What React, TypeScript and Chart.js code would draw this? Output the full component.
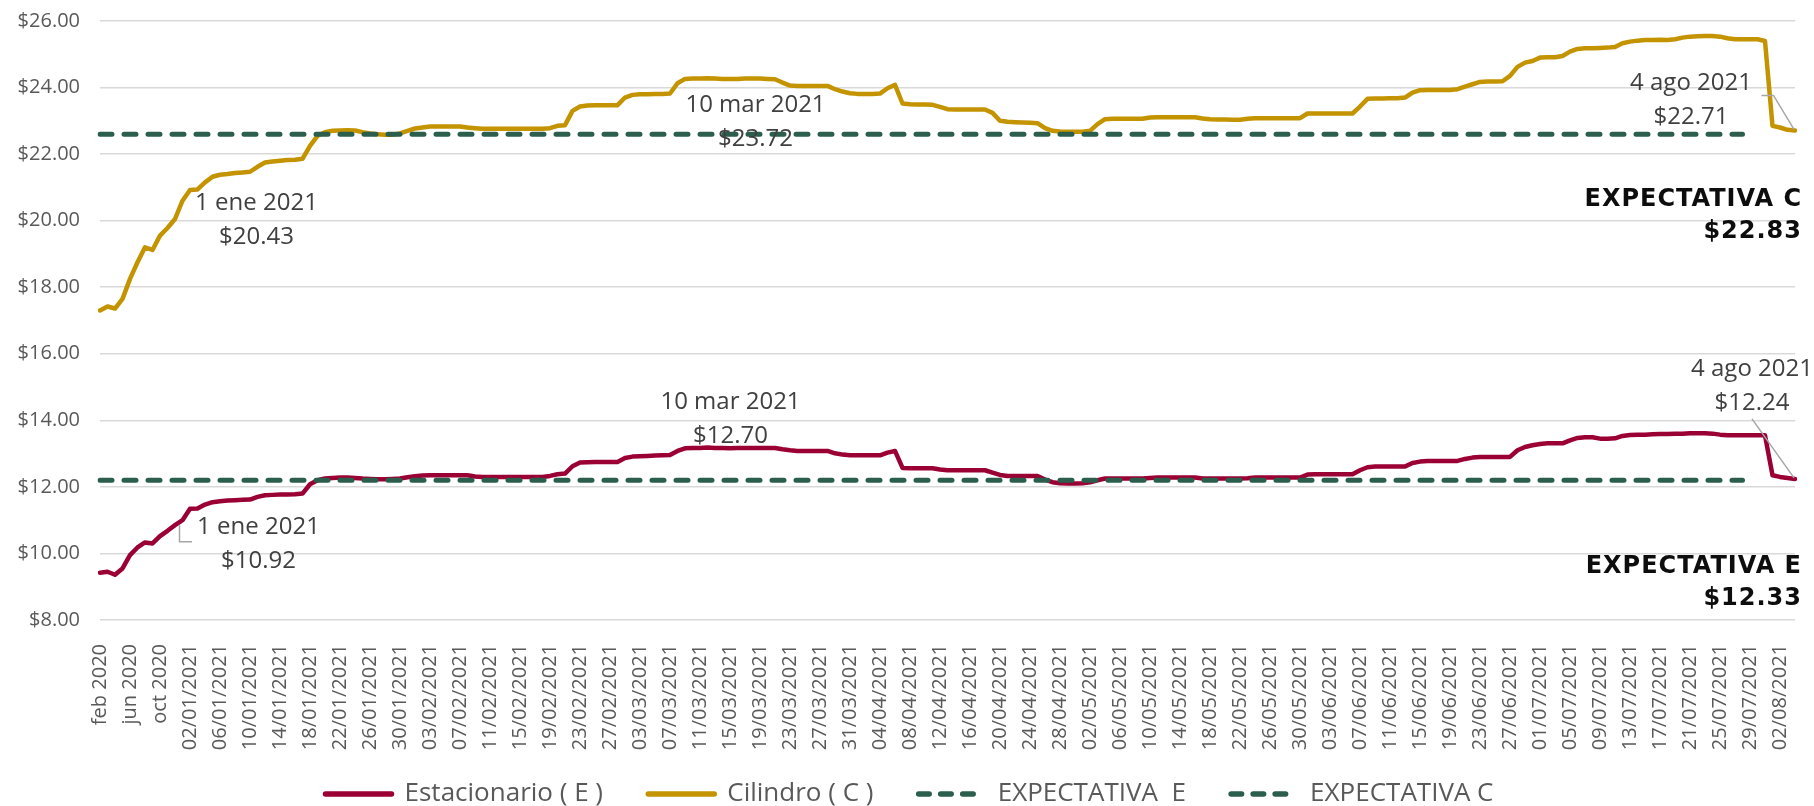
import { useEffect, useRef } from "react";
import { Chart, registerables } from "chart.js";

Chart.register(...registerables);

// ---------- DATA ----------
const MONTH_LABELS = [
  "feb 2020", "mar 2020", "abr 2020", "may 2020", "jun 2020", "jul 2020",
  "ago 2020", "sep 2020", "oct 2020", "nov 2020", "dic 2020",
];

const DAY_LABELS = [
  "01/01/2021","02/01/2021","03/01/2021","04/01/2021","05/01/2021","06/01/2021","07/01/2021","08/01/2021","09/01/2021","10/01/2021",
  "11/01/2021","12/01/2021","13/01/2021","14/01/2021","15/01/2021","16/01/2021","17/01/2021","18/01/2021","19/01/2021","20/01/2021",
  "21/01/2021","22/01/2021","23/01/2021","24/01/2021","25/01/2021","26/01/2021","27/01/2021","28/01/2021","29/01/2021","30/01/2021","31/01/2021",
  "01/02/2021","02/02/2021","03/02/2021","04/02/2021","05/02/2021","06/02/2021","07/02/2021","08/02/2021","09/02/2021","10/02/2021",
  "11/02/2021","12/02/2021","13/02/2021","14/02/2021","15/02/2021","16/02/2021","17/02/2021","18/02/2021","19/02/2021","20/02/2021",
  "21/02/2021","22/02/2021","23/02/2021","24/02/2021","25/02/2021","26/02/2021","27/02/2021","28/02/2021",
  "01/03/2021","02/03/2021","03/03/2021","04/03/2021","05/03/2021","06/03/2021","07/03/2021","08/03/2021","09/03/2021","10/03/2021",
  "11/03/2021","12/03/2021","13/03/2021","14/03/2021","15/03/2021","16/03/2021","17/03/2021","18/03/2021","19/03/2021","20/03/2021",
  "21/03/2021","22/03/2021","23/03/2021","24/03/2021","25/03/2021","26/03/2021","27/03/2021","28/03/2021","29/03/2021","30/03/2021","31/03/2021",
  "01/04/2021","02/04/2021","03/04/2021","04/04/2021","05/04/2021","06/04/2021","07/04/2021","08/04/2021","09/04/2021","10/04/2021",
  "11/04/2021","12/04/2021","13/04/2021","14/04/2021","15/04/2021","16/04/2021","17/04/2021","18/04/2021","19/04/2021","20/04/2021",
  "21/04/2021","22/04/2021","23/04/2021","24/04/2021","25/04/2021","26/04/2021","27/04/2021","28/04/2021","29/04/2021","30/04/2021",
  "01/05/2021","02/05/2021","03/05/2021","04/05/2021","05/05/2021","06/05/2021","07/05/2021","08/05/2021","09/05/2021","10/05/2021",
  "11/05/2021","12/05/2021","13/05/2021","14/05/2021","15/05/2021","16/05/2021","17/05/2021","18/05/2021","19/05/2021","20/05/2021",
  "21/05/2021","22/05/2021","23/05/2021","24/05/2021","25/05/2021","26/05/2021","27/05/2021","28/05/2021","29/05/2021","30/05/2021","31/05/2021",
  "01/06/2021","02/06/2021","03/06/2021","04/06/2021","05/06/2021","06/06/2021","07/06/2021","08/06/2021","09/06/2021","10/06/2021",
  "11/06/2021","12/06/2021","13/06/2021","14/06/2021","15/06/2021","16/06/2021","17/06/2021","18/06/2021","19/06/2021","20/06/2021",
  "21/06/2021","22/06/2021","23/06/2021","24/06/2021","25/06/2021","26/06/2021","27/06/2021","28/06/2021","29/06/2021","30/06/2021",
  "01/07/2021","02/07/2021","03/07/2021","04/07/2021","05/07/2021","06/07/2021","07/07/2021","08/07/2021","09/07/2021","10/07/2021",
  "11/07/2021","12/07/2021","13/07/2021","14/07/2021","15/07/2021","16/07/2021","17/07/2021","18/07/2021","19/07/2021","20/07/2021",
  "21/07/2021","22/07/2021","23/07/2021","24/07/2021","25/07/2021","26/07/2021","27/07/2021","28/07/2021","29/07/2021","30/07/2021","31/07/2021",
  "01/08/2021","02/08/2021","03/08/2021","04/08/2021",
];

const CATEGORIES = [...MONTH_LABELS, ...DAY_LABELS];

const ESTACIONARIO = [
  9.42, 9.45, 9.36, 9.55, 9.95, 10.18, 10.33, 10.30, 10.52, 10.68,
  10.85, 11.00, 11.34, 11.35, 11.47, 11.54, 11.57, 11.59, 11.60, 11.61,
  11.62, 11.70, 11.75, 11.76, 11.77, 11.77, 11.78, 11.80, 12.08, 12.20,
  12.25, 12.27, 12.28, 12.28, 12.27, 12.25, 12.24, 12.23, 12.23, 12.24,
  12.25, 12.29, 12.32, 12.34, 12.35, 12.35, 12.35, 12.35, 12.35, 12.35,
  12.31, 12.30, 12.30, 12.30, 12.30, 12.30, 12.30, 12.30, 12.30, 12.30,
  12.33, 12.38, 12.40, 12.62, 12.73, 12.74, 12.75, 12.75, 12.75, 12.75,
  12.87, 12.91, 12.92, 12.93, 12.94, 12.95, 12.96, 13.08, 13.16, 13.17,
  13.17, 13.18, 13.17, 13.17, 13.16, 13.17, 13.17, 13.17, 13.17, 13.17,
  13.17, 13.13, 13.10, 13.08, 13.08, 13.08, 13.08, 13.08, 13.01, 12.97,
  12.95, 12.95, 12.95, 12.95, 12.95, 13.03, 13.08, 12.57, 12.56, 12.56,
  12.56, 12.56, 12.52, 12.50, 12.50, 12.50, 12.50, 12.50, 12.50, 12.43,
  12.36, 12.33, 12.33, 12.33, 12.33, 12.33, 12.22, 12.14, 12.11, 12.10,
  12.10, 12.11, 12.14, 12.20, 12.25, 12.25, 12.25, 12.25, 12.25, 12.25,
  12.27, 12.28, 12.28, 12.28, 12.28, 12.28, 12.28, 12.25, 12.25, 12.25,
  12.25, 12.25, 12.25, 12.26, 12.28, 12.28, 12.28, 12.28, 12.28, 12.28,
  12.28, 12.37, 12.38, 12.38, 12.38, 12.38, 12.38, 12.38, 12.50, 12.59,
  12.61, 12.61, 12.61, 12.61, 12.61, 12.72, 12.76, 12.78, 12.78, 12.78,
  12.78, 12.78, 12.84, 12.88, 12.90, 12.90, 12.90, 12.90, 12.90, 13.10,
  13.20, 13.25, 13.29, 13.31, 13.31, 13.31, 13.40, 13.47, 13.49, 13.49,
  13.45, 13.45, 13.46, 13.53, 13.56, 13.57, 13.57, 13.58, 13.59, 13.59,
  13.60, 13.60, 13.61, 13.61, 13.61, 13.60, 13.57, 13.55, 13.55, 13.55,
  13.55, 13.55, 13.55, 12.35, 12.30, 12.27, 12.24,
];

const CILINDRO = [
  17.30, 17.42, 17.36, 17.65, 18.25, 18.75, 19.20, 19.12, 19.55, 19.78,
  20.05, 20.60, 20.92, 20.94, 21.15, 21.32, 21.38, 21.40, 21.43, 21.45,
  21.47, 21.62, 21.75, 21.78, 21.80, 21.82, 21.83, 21.86, 22.25, 22.55,
  22.66, 22.70, 22.71, 22.72, 22.71, 22.66, 22.62, 22.60, 22.58, 22.58,
  22.62, 22.70, 22.77, 22.80, 22.83, 22.83, 22.83, 22.83, 22.83, 22.80,
  22.78, 22.76, 22.76, 22.76, 22.76, 22.76, 22.76, 22.76, 22.76, 22.76,
  22.78, 22.85, 22.87, 23.30, 23.43, 23.46, 23.47, 23.47, 23.47, 23.47,
  23.70, 23.78, 23.80, 23.80, 23.81, 23.81, 23.82, 24.13, 24.26, 24.27,
  24.27, 24.28, 24.27, 24.26, 24.26, 24.26, 24.27, 24.27, 24.27, 24.26,
  24.25, 24.15, 24.06, 24.05, 24.05, 24.05, 24.05, 24.05, 23.95, 23.88,
  23.83, 23.81, 23.81, 23.81, 23.82, 23.98, 24.08, 23.52, 23.50, 23.49,
  23.49, 23.48, 23.42, 23.35, 23.34, 23.34, 23.34, 23.34, 23.34, 23.24,
  23.00, 22.97, 22.96, 22.95, 22.94, 22.93, 22.78, 22.70, 22.68, 22.67,
  22.67, 22.67, 22.70, 22.90, 23.05, 23.06, 23.06, 23.06, 23.06, 23.06,
  23.10, 23.11, 23.11, 23.11, 23.11, 23.11, 23.11, 23.07, 23.05, 23.04,
  23.04, 23.03, 23.03, 23.06, 23.08, 23.08, 23.08, 23.08, 23.08, 23.08,
  23.08, 23.22, 23.22, 23.22, 23.22, 23.22, 23.22, 23.22, 23.43, 23.66,
  23.67, 23.67, 23.68, 23.68, 23.70, 23.85, 23.92, 23.93, 23.93, 23.93,
  23.93, 23.95, 24.03, 24.10, 24.17, 24.18, 24.18, 24.19, 24.35, 24.62,
  24.75, 24.80, 24.90, 24.91, 24.91, 24.95, 25.08, 25.16, 25.18, 25.18,
  25.19, 25.20, 25.22, 25.33, 25.38, 25.41, 25.43, 25.43, 25.44, 25.43,
  25.45, 25.50, 25.53, 25.54, 25.55, 25.55, 25.53, 25.48, 25.45, 25.45,
  25.45, 25.45, 25.40, 22.85, 22.80, 22.73, 22.71,
];

// Expectation reference lines: value and first/last category they span
const EXPECTATIVA_E = 12.2;
const EXPECTATIVA_C = 22.6;
const EXPECTATIVA_SPAN = ["feb 2020", "28/07/2021"];

const SERIES_NAMES = ["Estacionario ( E )", "Cilindro ( C )", "EXPECTATIVA  E", "EXPECTATIVA C"];

const Y_TICKS = { min: 8, max: 26, step: 2 };

// Text annotations attached to data points
const POINT_NOTES = [
  { series: "C", index: 11, lines: ["1 ene 2021", "$20.43"] },
  { series: "E", index: 11, lines: ["1 ene 2021", "$10.92"] },
  { series: "C", index: 79, lines: ["10 mar 2021", "$23.72"] },
  { series: "E", index: 79, lines: ["10 mar 2021", "$12.70"] },
  { series: "C", index: 226, lines: ["4 ago 2021", "$22.71"] },
  { series: "E", index: 226, lines: ["4 ago 2021", "$12.24"] },
];
const EXPECT_NOTES = [
  { series: "C", lines: ["EXPECTATIVA C", "$22.83"] },
  { series: "E", lines: ["EXPECTATIVA E", "$12.33"] },
];

// ---------- STYLE ----------
const COLOR_E = "#9B0035";
const COLOR_C = "#C39400";
const COLOR_EXP = "#2B5E4D";
const FONT = "'Open Sans', 'DejaVu Sans', sans-serif";
const BOLD_FONT = "'DejaVu Sans', 'Open Sans', sans-serif";

// placement of point notes (px offsets from the anchored point)
const NOTE_LAYOUT = [
  { dx: 74, dy: 2, leader: null },
  { dx: 76, dy: 7, leader: [[-3, 5], [-3, 21.5], [9.5, 21.5]] },
  { dx: 63, dy: 27, leader: null },
  { dx: 38, dy: -46, leader: null },
  { dx: -104, dy: -47, leader: [[-33.5, -35], [-21.5, -35], [-1, -1]] },
  { dx: -43, dy: -110, leader: [[-43, -60], [-1, -1]] },
];
const EXPECT_LAYOUT = [
  { dx: 7, dy: 66 },
  { dx: 7, dy: 87 },
];
const LEGEND_SHIFT = 12;

const annotationPlugin = {
  id: "textNotes",
  afterLayout(chart: any) {
    if (chart.legend) {
      chart.legend.left += LEGEND_SHIFT;
      chart.legend.right += LEGEND_SHIFT;
    }
  },
  afterDatasetsDraw(chart: any) {
    const { ctx, scales, chartArea } = chart;
    const x = scales.x;
    const y = scales.y;
    ctx.save();
    POINT_NOTES.forEach((n, k) => {
      const lay = NOTE_LAYOUT[k];
      const arr = n.series === "E" ? ESTACIONARIO : CILINDRO;
      const px = x.getPixelForValue(n.index);
      const py = y.getPixelForValue(arr[n.index]);
      if (lay.leader) {
        ctx.beginPath();
        lay.leader.forEach((p: number[], j: number) => {
          if (j === 0) ctx.moveTo(px + p[0], py + p[1]);
          else ctx.lineTo(px + p[0], py + p[1]);
        });
        ctx.strokeStyle = "#a6a6a6";
        ctx.lineWidth = 1.5;
        ctx.setLineDash([]);
        ctx.stroke();
      }
      ctx.font = `24px ${FONT}`;
      ctx.fillStyle = "#404040";
      ctx.textAlign = "center";
      ctx.textBaseline = "middle";
      n.lines.forEach((t, j) => ctx.fillText(t, px + lay.dx, py + lay.dy + j * 34));
    });
    EXPECT_NOTES.forEach((n, k) => {
      const lay = EXPECT_LAYOUT[k];
      const v = n.series === "E" ? EXPECTATIVA_E : EXPECTATIVA_C;
      const py = y.getPixelForValue(v);
      ctx.font = `bold 24px ${BOLD_FONT}`;
      (ctx as any).letterSpacing = "1px";
      ctx.fillStyle = "#0d0d0d";
      ctx.textAlign = "right";
      ctx.textBaseline = "middle";
      n.lines.forEach((t, j) => ctx.fillText(t, chartArea.right + lay.dx, py + lay.dy + j * 32));
      (ctx as any).letterSpacing = "0px";
    });
    ctx.restore();
  },
};

export default function App() {
  const ref = useRef<HTMLCanvasElement | null>(null);

  useEffect(() => {
    if (!ref.current) return;
    const legendColors = [COLOR_E, COLOR_C, COLOR_EXP, COLOR_EXP];
    const chart = new Chart(ref.current, {
      type: "line",
      data: {
        labels: CATEGORIES,
        datasets: [
          {
            label: SERIES_NAMES[0],
            data: ESTACIONARIO,
            borderColor: COLOR_E,
            borderWidth: 4.5,
            pointRadius: 0,
            tension: 0,
            borderJoinStyle: "round",
            borderCapStyle: "round",
            order: 1,
          },
          {
            label: SERIES_NAMES[1],
            data: CILINDRO,
            borderColor: COLOR_C,
            borderWidth: 4.5,
            pointRadius: 0,
            tension: 0,
            borderJoinStyle: "round",
            borderCapStyle: "round",
            order: 1,
          },
          {
            label: SERIES_NAMES[2],
            data: EXPECTATIVA_SPAN.map((c) => ({ x: c, y: EXPECTATIVA_E })),
            borderColor: COLOR_EXP,
            borderWidth: 5,
            borderDash: [12, 12],
            borderCapStyle: "round",
            pointRadius: 0,
            order: 0,
          },
          {
            label: SERIES_NAMES[3],
            data: EXPECTATIVA_SPAN.map((c) => ({ x: c, y: EXPECTATIVA_C })),
            borderColor: COLOR_EXP,
            borderWidth: 5,
            borderDash: [12, 12],
            borderCapStyle: "round",
            pointRadius: 0,
            order: 0,
          },
        ] as any,
      },
      options: {
        animation: false,
        responsive: false,
        layout: { padding: { left: 0, right: 19, top: 21, bottom: 0 } },
        scales: {
          x: {
            type: "category",
            offset: false,
            grid: { display: false },
            border: { display: false },
            ticks: {
              autoSkip: false,
              minRotation: 90,
              maxRotation: 90,
              padding: 16,
              color: "#595959",
              font: { family: FONT, size: 20 },
              callback: function (this: any, value: any, index: number) {
                return index % 4 === 0 ? this.getLabelForValue(value) : "";
              },
            },
            afterFit: (s: any) => {
              s.height = 136;
              s.paddingLeft = 0;
              s.paddingRight = 0;
            },
          },
          y: {
            min: Y_TICKS.min,
            max: Y_TICKS.max,
            grid: { color: "#d9d9d9", lineWidth: 1.6, drawTicks: false },
            border: { display: false },
            ticks: {
              stepSize: Y_TICKS.step,
              padding: 20,
              color: "#595959",
              font: { family: FONT, size: 20 },
              callback: (v: any) => "$" + Number(v).toFixed(2),
            },
            afterFit: (s: any) => {
              s.width = 100;
              s.paddingTop = 0;
              s.paddingBottom = 0;
            },
          },
        },
        plugins: {
          tooltip: { enabled: false },
          legend: {
            position: "bottom",
            labels: {
              usePointStyle: true,
              pointStyleWidth: 66,
              padding: 25,
              color: "#595959",
              font: { family: FONT, size: 26 },
              generateLabels: () =>
                SERIES_NAMES.map((name, i) => ({
                  text: i < SERIES_NAMES.length - 1 ? name + "   " : name,
                  fillStyle: "rgba(0,0,0,0)",
                  strokeStyle: legendColors[i],
                  lineWidth: 5.5,
                  lineDash: i >= 2 ? [10.5, 11.5, 10.5, 11.5, 10.5, 200] : [],
                  lineCap: "round",
                  pointStyle: "line",
                  datasetIndex: i,
                  hidden: false,
                  fontColor: "#595959",
                })) as any,
            },
          },
        },
      } as any,
      plugins: [annotationPlugin],
    });
    return () => chart.destroy();
  }, []);

  return (
    <div style={{ position: "fixed", left: 0, top: 0, width: 1814, height: 817, background: "#ffffff" }}>
      <canvas ref={ref} width={1814} height={817} style={{ display: "block" }} />
    </div>
  );
}
